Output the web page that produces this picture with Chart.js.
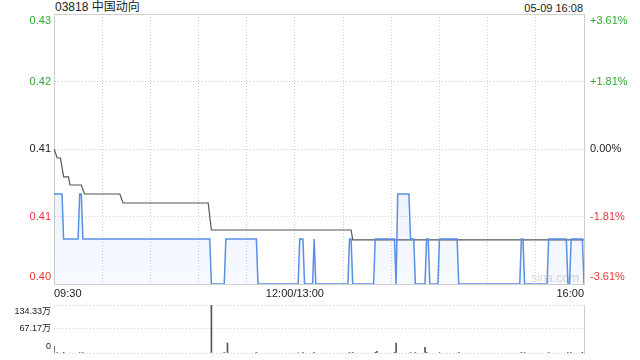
<!DOCTYPE html>
<html>
<head>
<meta charset="utf-8">
<script src="https://cdn.jsdelivr.net/npm/chart.js@4.4.1/dist/chart.umd.min.js"></script>
<style>
    html, body { margin: 0; padding: 0; background: #fff; }
    body {
        width: 640px; height: 360px; position: relative; overflow: hidden;
        font-family: 'Liberation Sans', 'Noto Sans CJK SC', sans-serif;
    }
    #title { position: absolute; left: 55px; top: 0; font-size: 12px; line-height: 14px; color: #222; }
    #stamp { position: absolute; right: 57px; top: 1px; font-size: 11px; line-height: 14px; color: #222; }
    #mark { position: absolute; left: 531px; top: 271px; font-size: 12px; color: #d8d8d8; }
    #main { position: absolute; left: 0; top: 0; }
    #vol { position: absolute; left: 0; top: 295px; }
</style>
</head>
<body>
<div id="mark">sina.com</div>
<div id="title">03818 中国动向</div>
<div id="stamp">05-09 16:08</div>
<canvas id="main" width="640" height="300"></canvas>
<canvas id="vol" width="640" height="65"></canvas>
<script>
// minutes since 09:30 (lunch break removed), 330 = 16:00
const gridMinutes = [0, 30, 60, 90, 120, 150, 180, 210, 240, 270, 300, 330];
const labelMinutes = [0, 150, 330];
const timeLabels = ['09:30', '12:00/13:00', '16:00'];

const tickPrices = [0.40, 0.4075, 0.415, 0.4225, 0.43];
const priceLabels = ['0.40', '0.41', '0.41', '0.42', '0.43'];
const pctLabels = ['-3.61%', '-1.81%', '0.00%', '+1.81%', '+3.61%'];

// last price, only the points where it changes
const priceMinutes = [
    0, 5, 6, 15, 16, 17, 18,
    97, 98, 106, 107,
    126, 127,
    152, 153, 155, 156,
    161, 162, 163,
    183, 184, 185, 186,
    199, 200,
    212, 213, 214,
    221, 222, 224, 225,
    231, 232, 233, 234,
    239, 240,
    251, 252,
    290, 291, 292, 293,
    307, 308,
    319, 320, 321, 322,
    329, 330
];
const prices = [
    0.41, 0.41, 0.405, 0.405, 0.41, 0.41, 0.405,
    0.405, 0.40, 0.40, 0.405,
    0.405, 0.40,
    0.40, 0.405, 0.405, 0.40,
    0.40, 0.405, 0.40,
    0.40, 0.405, 0.405, 0.40,
    0.40, 0.405,
    0.405, 0.40, 0.41,
    0.41, 0.405, 0.405, 0.40,
    0.40, 0.405, 0.405, 0.40,
    0.40, 0.405,
    0.405, 0.40,
    0.40, 0.405, 0.405, 0.40,
    0.40, 0.405,
    0.405, 0.40, 0.40, 0.405,
    0.405, 0.40
];

// average price
const avgMinutes = [0, 2, 4, 6, 9, 10, 17, 19, 41, 43, 96, 98, 185, 186, 330];
const avgPrices = [0.4150, 0.4140, 0.4140, 0.4119, 0.4119, 0.4110, 0.4110, 0.4100,
    0.4100, 0.4090, 0.4090, 0.4060, 0.4060, 0.4049, 0.4049];

// volume, in 万 shares
const volTicks = [0, 67.17, 134.33];
const volLabels = ['0', '67.17万', '134.33万'];
const volMinutes = [0, 2, 6, 16, 18, 98, 106, 108, 126, 152, 155, 162, 184, 186, 200,
    201, 212, 213, 222, 225, 231, 232, 240, 252, 291, 293, 308, 320, 322, 329];
const volumes = [18, 1, 2, 1.5, 2, 134.33, 2, 28, 1, 1.5, 1, 1, 2, 1, 1,
    4.5, 1, 28, 1.5, 1, 15.6, 1, 1.5, 1, 1, 1, 1.5, 1, 1, 1];

const FONT = "'Liberation Sans', 'Noto Sans CJK SC', sans-serif";
const GRID = '#cfcfcf';
const GREEN = '#2fa82f';
const RED = '#ee3434';

function toPoints(xs, ys) {
    return xs.map((x, i) => ({ x: x, y: ys[i] }));
}

function tickColor(ctx) {
    const i = ctx.index;
    if (i < 2) return RED;
    if (i === 2) return '#222';
    return GREEN;
}

// push end labels inside the plot like the original
function innerLabel(labels) {
    return function (value, index, ticks) {
        const text = labels[index];
        if (index === 0) return [text, ''];
        if (index === ticks.length - 1) return ['', text];
        return text;
    };
}

function fixSize(prop, size) {
    return function (axis) {
        axis[prop] = size;
        axis.paddingTop = 0;
        axis.paddingBottom = 0;
        axis.paddingLeft = 0;
        axis.paddingRight = 0;
    };
}

new Chart(document.querySelector('#main'), {
    type: 'line',
    data: {
        datasets: [{
            data: toPoints(priceMinutes, prices),
            borderColor: '#5a8fe6',
            borderWidth: 1.5,
            pointRadius: 0,
            tension: 0,
            fill: 'origin',
            backgroundColor: function (context) {
                const area = context.chart.chartArea;
                if (!area) return 'rgba(90, 143, 230, 0.08)';
                const g = context.chart.ctx.createLinearGradient(0, area.top, 0, area.bottom);
                g.addColorStop(0, 'rgba(90, 143, 230, 0.24)');
                g.addColorStop(1, 'rgba(90, 143, 230, 0.05)');
                return g;
            }
        }, {
            data: toPoints(avgMinutes, avgPrices),
            borderColor: '#555',
            borderWidth: 1.2,
            pointRadius: 0,
            tension: 0,
            fill: false
        }]
    },
    options: {
        responsive: false,
        animation: false,
        events: [],
        layout: { padding: { top: 14, left: 0, right: 0, bottom: 0 } },
        scales: {
            x: {
                type: 'linear',
                min: 0,
                max: 330,
                afterBuildTicks: axis => { axis.ticks = gridMinutes.map(v => ({ value: v })); },
                afterFit: fixSize('height', 16),
                grid: { color: GRID, drawTicks: false },
                border: { color: GRID, dash: [1, 2] },
                ticks: {
                    autoSkip: false,
                    maxRotation: 0,
                    align: 'inner',
                    padding: 3,
                    color: '#222',
                    font: { family: FONT, size: 11 },
                    callback: function (value) {
                        const i = labelMinutes.indexOf(value);
                        return i >= 0 ? timeLabels[i] : '';
                    }
                }
            },
            xTop: {
                type: 'linear',
                position: 'top',
                min: 0,
                max: 330,
                afterFit: fixSize('height', 0),
                grid: { display: false, drawTicks: false },
                border: { color: GRID },
                ticks: { display: false }
            },
            y: {
                position: 'left',
                min: 0.40,
                max: 0.43,
                afterBuildTicks: axis => { axis.ticks = tickPrices.map(v => ({ value: v })); },
                afterFit: fixSize('width', 54),
                grid: { color: GRID, drawTicks: false },
                border: { color: GRID, dash: [1, 2] },
                ticks: {
                    autoSkip: false,
                    padding: 3,
                    color: tickColor,
                    font: { family: FONT, size: 11, lineHeight: 1.2 },
                    callback: innerLabel(priceLabels)
                }
            },
            yPct: {
                position: 'right',
                min: 0.40,
                max: 0.43,
                afterBuildTicks: axis => { axis.ticks = tickPrices.map(v => ({ value: v })); },
                afterFit: fixSize('width', 56),
                grid: { display: false, drawTicks: false },
                border: { color: GRID },
                ticks: {
                    autoSkip: false,
                    padding: 6,
                    color: tickColor,
                    font: { family: FONT, size: 11, lineHeight: 1.2 },
                    callback: innerLabel(pctLabels)
                }
            }
        },
        plugins: {
            legend: { display: false },
            tooltip: { enabled: false }
        }
    }
});

new Chart(document.querySelector('#vol'), {
    type: 'bar',
    data: {
        datasets: [{
            data: toPoints(volMinutes, volumes),
            backgroundColor: '#555',
            barThickness: 1
        }]
    },
    options: {
        responsive: false,
        animation: false,
        events: [],
        layout: { padding: { top: 10, left: 0, right: 0, bottom: 7 } },
        scales: {
            x: {
                type: 'linear',
                display: false,
                offset: false,
                min: 0,
                max: 330,
                grid: { offset: false }
            },
            y: {
                position: 'left',
                min: 0,
                max: 134.33,
                afterBuildTicks: axis => { axis.ticks = volTicks.map(v => ({ value: v })); },
                afterFit: fixSize('width', 54),
                grid: { color: GRID, drawTicks: false },
                border: { display: false, dash: [1, 2] },
                ticks: {
                    autoSkip: false,
                    padding: 3,
                    color: '#222',
                    font: { family: FONT, size: 9, lineHeight: 1.4 },
                    callback: innerLabel(volLabels)
                }
            },
            yRight: {
                position: 'right',
                min: 0,
                max: 134.33,
                afterFit: fixSize('width', 56),
                grid: { display: false, drawTicks: false },
                border: { color: GRID },
                ticks: { display: false }
            }
        },
        plugins: {
            legend: { display: false },
            tooltip: { enabled: false }
        }
    }
});
</script>
</body>
</html>
